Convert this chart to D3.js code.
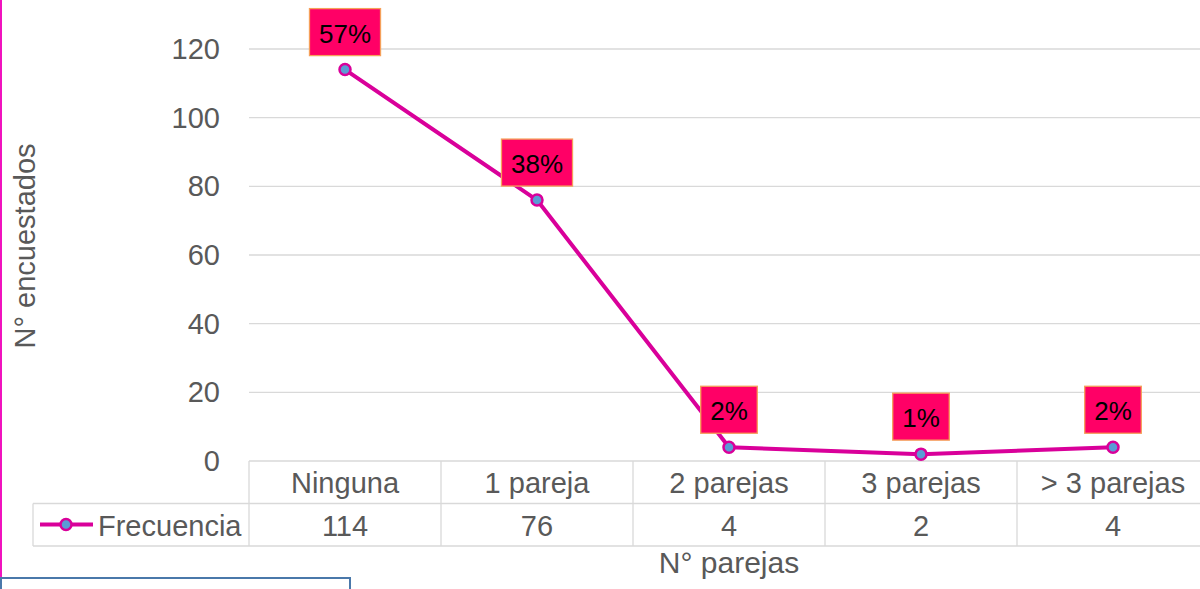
<!DOCTYPE html>
<html>
<head>
<meta charset="utf-8">
<script src="https://cdn.jsdelivr.net/npm/d3@7"></script>
<style>
  html, body { margin: 0; padding: 0; background: #fff; }
  svg { display: block; font-family: "Liberation Sans", Arial, sans-serif; }
</style>
</head>
<body>
<svg id="chart" width="1200" height="589"></svg>
<script>
// data
const categories = ['Ninguna', '1 pareja', '2 parejas', '3 parejas', '> 3 parejas'];
const frecuencia = [114, 76, 4, 2, 4];
const pctLabels = ['57%', '38%', '2%', '1%', '2%'];
const yTicks = [0, 20, 40, 60, 80, 100, 120];

const width = 1200,
	height = 589;

const plot = { left: 249, right: 1209, top: 49, bottom: 461 },
	rowH = 42.5,
	legendLeft = 33;

const lineColor = '#d9009a',
	gridColor = '#d9d9d9',
	textColor = '#595959';

const svg = d3.select('#chart');

const x = d3.scaleBand()
	.domain(categories)
	.range([plot.left, plot.right])
	.padding(0);

const y = d3.scaleLinear()
	.domain([0, 120])
	.range([plot.bottom, plot.top]);

// left magenta border of the slide
svg.append('line')
	.attr('x1', 1).attr('x2', 1)
	.attr('y1', 0).attr('y2', 578)
	.attr('stroke', '#f013be')
	.attr('stroke-width', 2);

// gridlines
svg.append('g')
	.selectAll('line')
	.data(yTicks.filter(d => d > 0))
	.join('line')
	.attr('x1', plot.left)
	.attr('x2', width)
	.attr('y1', d => y(d))
	.attr('y2', d => y(d))
	.attr('stroke', gridColor)
	.attr('stroke-width', 1.3);

// y tick labels
svg.append('g')
	.selectAll('text')
	.data(yTicks)
	.join('text')
	.attr('x', 220)
	.attr('y', d => y(d))
	.attr('dy', '0.35em')
	.attr('text-anchor', 'end')
	.attr('font-size', 29)
	.attr('fill', textColor)
	.text(d => d);

// y axis title
svg.append('text')
	.attr('transform', 'translate(35,246) rotate(-90)')
	.attr('text-anchor', 'middle')
	.attr('font-size', 29)
	.attr('fill', textColor)
	.text('N° encuestados');

// data table under the axis
const table = svg.append('g').attr('stroke', gridColor).attr('stroke-width', 1.3);
const row1 = plot.bottom,
	row2 = plot.bottom + rowH,
	row3 = plot.bottom + 2 * rowH;

table.append('line').attr('x1', plot.left).attr('x2', plot.right).attr('y1', row1).attr('y2', row1);
table.append('line').attr('x1', legendLeft).attr('x2', plot.right).attr('y1', row2).attr('y2', row2);
table.append('line').attr('x1', legendLeft).attr('x2', plot.right).attr('y1', row3).attr('y2', row3);
table.append('line').attr('x1', legendLeft).attr('x2', legendLeft).attr('y1', row2).attr('y2', row3);
table.selectAll('line.col')
	.data(categories.map(c => x(c)).concat([plot.right]))
	.join('line')
	.attr('class', 'col')
	.attr('x1', d => d).attr('x2', d => d)
	.attr('y1', row1).attr('y2', row3);

svg.append('g')
	.selectAll('text')
	.data(categories)
	.join('text')
	.attr('x', d => x(d) + x.bandwidth() / 2)
	.attr('y', row1 + 32)
	.attr('text-anchor', 'middle')
	.attr('font-size', 29)
	.attr('fill', textColor)
	.text(d => d);

svg.append('g')
	.selectAll('text')
	.data(frecuencia)
	.join('text')
	.attr('x', (d, i) => x(categories[i]) + x.bandwidth() / 2)
	.attr('y', row2 + 32)
	.attr('text-anchor', 'middle')
	.attr('font-size', 29)
	.attr('fill', textColor)
	.text(d => d);

// legend key in the table
const legend = svg.append('g');
legend.append('line')
	.attr('x1', 40).attr('x2', 93)
	.attr('y1', row2 + 21).attr('y2', row2 + 21)
	.attr('stroke', lineColor)
	.attr('stroke-width', 4);
legend.append('circle')
	.attr('cx', 66).attr('cy', row2 + 21).attr('r', 5.5)
	.attr('fill', '#5b9bd5')
	.attr('stroke', lineColor)
	.attr('stroke-width', 2.5);
legend.append('text')
	.attr('x', 98)
	.attr('y', row2 + 32)
	.attr('font-size', 29)
	.attr('fill', textColor)
	.text('Frecuencia');

// x axis title
svg.append('text')
	.attr('x', 729)
	.attr('y', 573)
	.attr('text-anchor', 'middle')
	.attr('font-size', 30)
	.attr('fill', textColor)
	.text('N° parejas');

// series line
const line = d3.line()
	.x((d, i) => x(categories[i]) + x.bandwidth() / 2)
	.y(d => y(d));

svg.append('path')
	.datum(frecuencia)
	.attr('d', line)
	.attr('fill', 'none')
	.attr('stroke', lineColor)
	.attr('stroke-width', 4)
	.attr('stroke-linejoin', 'round');

svg.append('g')
	.selectAll('circle')
	.data(frecuencia)
	.join('circle')
	.attr('cx', (d, i) => x(categories[i]) + x.bandwidth() / 2)
	.attr('cy', d => y(d))
	.attr('r', 5.5)
	.attr('fill', '#5b9bd5')
	.attr('stroke', lineColor)
	.attr('stroke-width', 2.5);

// percentage callouts
const labels = svg.append('g')
	.selectAll('g')
	.data(frecuencia)
	.join('g')
	.attr('transform', (d, i) => `translate(${x(categories[i]) + x.bandwidth() / 2},${y(d) - 14})`);

const rects = labels.append('rect')
	.attr('fill', '#ff0066')
	.attr('stroke', '#f5a05a')
	.attr('stroke-width', 1.3);

const labelText = labels.append('text')
	.attr('text-anchor', 'middle')
	.attr('y', -13)
	.attr('font-size', 26)
	.attr('fill', '#000')
	.text((d, i) => pctLabels[i]);

labelText.each(function (d, i) {
	const w = this.getComputedTextLength() + 19;
	d3.select(rects.nodes()[i])
		.attr('x', -w / 2)
		.attr('y', -47)
		.attr('width', w)
		.attr('height', 47);
});

// blue outline box at the bottom left
svg.append('rect')
	.attr('x', 1)
	.attr('y', 578)
	.attr('width', 349)
	.attr('height', 30)
	.attr('fill', 'none')
	.attr('stroke', '#4a78aa')
	.attr('stroke-width', 2);
</script>
</body>
</html>
